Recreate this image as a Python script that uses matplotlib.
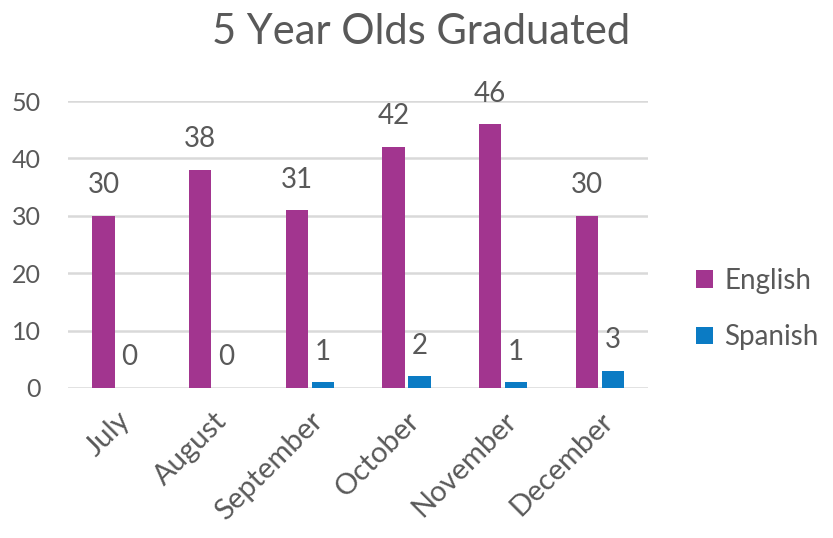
import matplotlib.pyplot as plt
import numpy as np

plt.rcParams['font.family'] = ['Lato', 'DejaVu Sans']

months = ['July', 'August', 'September', 'October', 'November', 'December']
english = [30, 38, 31, 42, 46, 30]
spanish = [0, 0, 1, 2, 1, 3]

txt = '#595959'
fig = plt.figure(figsize=(8.33, 5.38), dpi=100)
ax = fig.add_axes([0.082, 0.279, 0.696, 0.533])

x = np.arange(len(months))
w = 0.23
b1 = ax.bar(x - 0.135, english, w, color='#A2358F', label='English', zorder=3)
b2 = ax.bar(x + 0.135, spanish, w, color='#0B7BC4', label='Spanish', zorder=3)

for bars in (b1, b2):
    for r in bars:
        ax.annotate(str(int(r.get_height())), (r.get_x() + r.get_width() / 2, r.get_height()),
                    xytext=(0, 22), textcoords='offset points', ha='center', va='center',
                    fontsize=20, color=txt, annotation_clip=False)

ax.set_xlim(-0.5, 5.5)
ax.set_ylim(0, 50)
ax.set_yticks(range(0, 51, 10))
ax.grid(axis='y', color='#D9D9D9', linewidth=1.8, zorder=0)
for s in ax.spines.values():
    s.set_visible(False)
ax.tick_params(length=0, colors=txt)
ax.tick_params(axis='y', pad=20, labelsize=18)
ax.tick_params(axis='x', pad=14, labelsize=21)
ax.set_xticks(x)
ax.set_xticklabels(months, rotation=45, ha='right', rotation_mode='anchor')

fig.suptitle('5 Year Olds Graduated', x=0.505, y=0.975, fontsize=30, color=txt)
ax.legend(loc='center left', bbox_to_anchor=(1.04, 0.275), frameon=False, fontsize=20,
          labelcolor=txt, handlelength=0.6, handleheight=0.6, labelspacing=1.1, handletextpad=0.4)

fig.savefig('out.png')
